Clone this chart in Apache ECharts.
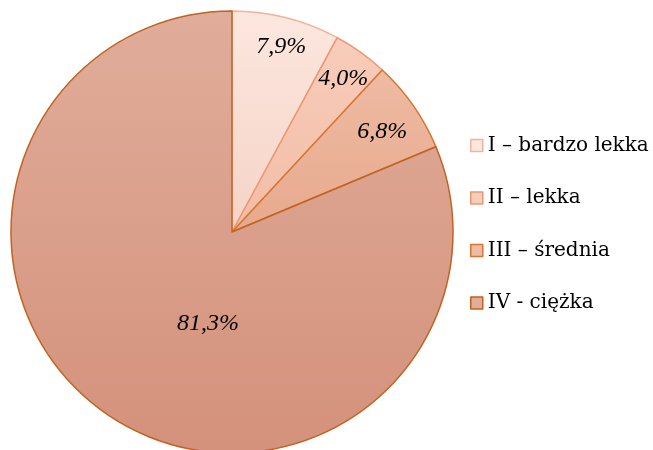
<!DOCTYPE html>
<html>
<head>
<meta charset="utf-8">
<script src="https://cdn.jsdelivr.net/npm/echarts@6/dist/echarts.min.js"></script>
<style>
html,body{margin:0;padding:0;background:#fff;}
#chart{width:653px;height:450px;}
</style>
</head>
<body>
<div id="chart"></div>
<script>
// Category names and their shares (%)
var categories = ['I \u2013 bardzo lekka', 'II \u2013 lekka', 'III \u2013 \u015brednia', 'IV - ci\u0119\u017cka'];
var shares = [7.9, 4.0, 6.8, 81.3];

// Slice fills (top -> bottom gradient) and outlines
var fillTop = ['#fce7df', '#f8cdbb', '#eebba3', '#e0ad9a'];
var fillBottom = ['#f6d3c6', '#f2bca5', '#e7a98d', '#d4917b'];
var outline = ['#f0b49c', '#eb9670', '#d8742f', '#c2621f'];

// Where each value label sits: fraction of radius and angle nudge (deg)
var labelRadius = [0.87, 0.86, 0.82, 0.425];
var labelAngleShift = [0.6, 0.2, 0.9, -18.9];

var cx = 232, cy = 232, R = 221;
var legendFont = '"DejaVu Serif", "Liberation Serif", serif';
var labelFont = '"Liberation Serif", "DejaVu Serif", serif';

var total = shares.reduce(function (a, b) { return a + b; }, 0);
var midAngles = [];
(function () {
  var acc = 0;
  shares.forEach(function (v) {
    midAngles.push((acc + v / 2) / total * 360);
    acc += v;
  });
})();

function grad(i) {
  return new echarts.graphic.LinearGradient(0, 0, 0, 1, [
    { offset: 0, color: fillTop[i] },
    { offset: 1, color: fillBottom[i] }
  ]);
}

var data = categories.map(function (name, i) {
  return {
    name: name,
    value: shares[i],
    itemStyle: { color: grad(i), borderColor: outline[i], borderWidth: 1.5 }
  };
});

var chart = echarts.init(document.getElementById('chart'), null, { renderer: 'canvas' });
chart.setOption({
  animation: false,
  backgroundColor: '#ffffff',
  legend: {
    orient: 'vertical',
    left: 470,
    top: 135,
    padding: 0,
    itemWidth: 12,
    itemHeight: 12,
    itemGap: 31.5,
    icon: 'rect',
    data: categories.map(function (name, i) {
      return { name: name, itemStyle: { color: fillTop[i], borderColor: outline[i], borderWidth: 1.5 } };
    }),
    textStyle: { fontFamily: legendFont, fontSize: 20, color: '#000', lineHeight: 21, padding: [0, 0, 0, 0] }
  },
  series: [{
    type: 'pie',
    center: [cx, cy],
    radius: [0, R],
    startAngle: 90,
    clockwise: true,
    data: data,
    label: {
      show: true,
      position: 'inside',
      formatter: function (p) { return p.value.toFixed(1).replace('.', ',') + '%'; },
      fontFamily: labelFont,
      fontStyle: 'italic',
      fontSize: 24,
      color: '#000'
    },
    labelLine: { show: false },
    labelLayout: function (p) {
      var i = p.dataIndex;
      var a = (midAngles[i] + labelAngleShift[i]) * Math.PI / 180;
      var r = R * labelRadius[i];
      return { x: cx + r * Math.sin(a), y: cy - r * Math.cos(a) + 1, align: 'center', verticalAlign: 'middle' };
    },
    emphasis: { disabled: true }
  }]
});
</script>
</body>
</html>
